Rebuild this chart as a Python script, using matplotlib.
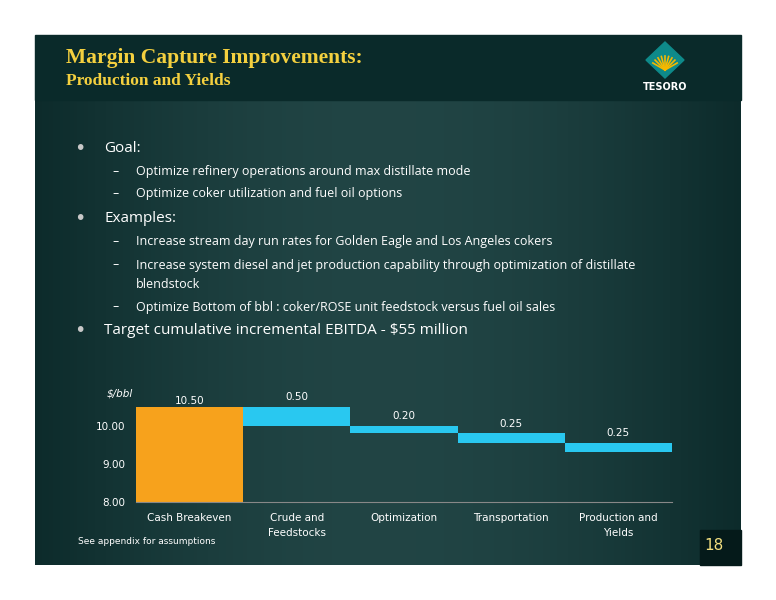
import numpy as np
import matplotlib.pyplot as plt
from matplotlib.patches import Rectangle, Polygon

categories = ['Cash Breakeven', 'Crude and\nFeedstocks', 'Optimization', 'Transportation', 'Production and\nYields']
start_value = 10.50
steps = [0.50, 0.20, 0.25, 0.25]
labels = ['10.50', '0.50', '0.20', '0.25', '0.25']
yticks = [8.0, 9.0, 10.0]

fig = plt.figure(figsize=(7.76, 6.0), dpi=100)
fig.patch.set_facecolor('white')

# slide background
bg = fig.add_axes([0, 0, 1, 1])
bg.set_xlim(0, 776)
bg.set_ylim(600, 0)
bg.axis('off')
grad = np.linspace(0, 1, 200)[None, :]
bg.imshow(np.dstack([0.05 + 0.08 * np.sin(grad * np.pi), 0.17 + 0.1 * np.sin(grad * np.pi), 0.17 + 0.1 * np.sin(grad * np.pi)]),
          extent=[35, 741, 565, 100], aspect='auto', zorder=0)
bg.add_patch(Rectangle((35, 35), 706, 65, color='#0a2a2a', zorder=1))
bg.add_patch(Rectangle((700, 530), 41, 35, color='#051a1a', zorder=1))

bg.text(66, 58, 'Margin Capture Improvements:', color='#f4d03f', fontsize=15.5, fontweight='bold',
        family='Liberation Serif', va='center')
bg.text(66, 81, 'Production and Yields', color='#f4d03f', fontsize=12.5, fontweight='bold',
        family='Liberation Serif', va='center')

# logo
bg.add_patch(Polygon([(665, 42), (684, 60), (665, 78), (646, 60)], closed=True, color='#0e8a8a', zorder=2))
for a in np.linspace(-60, 60, 9):
    r = np.radians(a - 90)
    bg.plot([665, 665 + 14 * np.cos(r)], [70, 70 + 14 * np.sin(r)], color='#f5b800', lw=1.2, zorder=3)
bg.text(665, 87, 'TESORO', color='white', fontsize=7, fontweight='bold', ha='center', va='center')

bullets = [
    (80, 104, 148, '•', 'Goal:', 11),
    (116, 136, 172, '–', 'Optimize refinery operations around max distillate mode', 9),
    (116, 136, 194, '–', 'Optimize coker utilization and fuel oil options', 9),
    (80, 104, 218, '•', 'Examples:', 11),
    (116, 136, 242, '–', 'Increase stream day run rates for Golden Eagle and Los Angeles cokers', 9),
    (116, 136, 265, '–', 'Increase system diesel and jet production capability through optimization of distillate', 9),
    (None, 136, 285, '', 'blendstock', 9),
    (116, 136, 307, '–', 'Optimize Bottom of bbl : coker/ROSE unit feedstock versus fuel oil sales', 9),
    (80, 104, 331, '•', 'Target cumulative incremental EBITDA - $55 million', 11),
]
for bx, tx, y, sym, txt, fs in bullets:
    if bx is not None:
        bg.text(bx, y, sym, color='#c8c8c8' if sym == '•' else 'white', fontsize=fs + 3 if sym == '•' else fs,
                va='center', ha='center', family='DejaVu Sans')
    bg.text(tx, y, txt, color='white', fontsize=fs, va='center', family='Open Sans')

bg.text(78, 542, 'See appendix for assumptions', color='white', fontsize=6.5, va='center')
bg.text(714, 546, '18', color='#f4e080', fontsize=11, va='center', ha='center')
bg.text(107, 393, '$/bbl', color='white', fontsize=7.5, style='italic', va='center')

# waterfall chart
ax = fig.add_axes([136 / 776, 98 / 600, 536 / 776, 99 / 600])
ax.set_facecolor('none')
x = np.arange(len(categories))
ax.bar(x[0], start_value - 8.0, bottom=8.0, width=1.0, color='#f7a21c', zorder=2)
top = start_value
for i, s in enumerate(steps):
    ax.bar(x[i + 1], s, bottom=top - s, width=1.0, color='#29c8f0', zorder=2)
    ax.text(x[i + 1], top + 0.12, labels[i + 1], color='white', fontsize=7.5, ha='center', va='bottom')
    top -= s
ax.text(x[0], start_value + 0.02, labels[0], color='white', fontsize=7.5, ha='center', va='bottom')

ax.set_xlim(-0.5, len(categories) - 0.5)
ax.set_ylim(8.0, 10.6)
ax.set_yticks(yticks)
ax.set_yticklabels([f'{v:.2f}' for v in yticks], color='white', fontsize=7.5)
ax.set_xticks(x)
ax.set_xticklabels(categories, color='white', fontsize=7.5, linespacing=1.6, va='top')
ax.tick_params(length=0, pad=8)
for sp in ['top', 'right', 'left']:
    ax.spines[sp].set_visible(False)
ax.spines['bottom'].set_color('#888888')

fig.savefig('out.png', dpi=100, facecolor='white')
